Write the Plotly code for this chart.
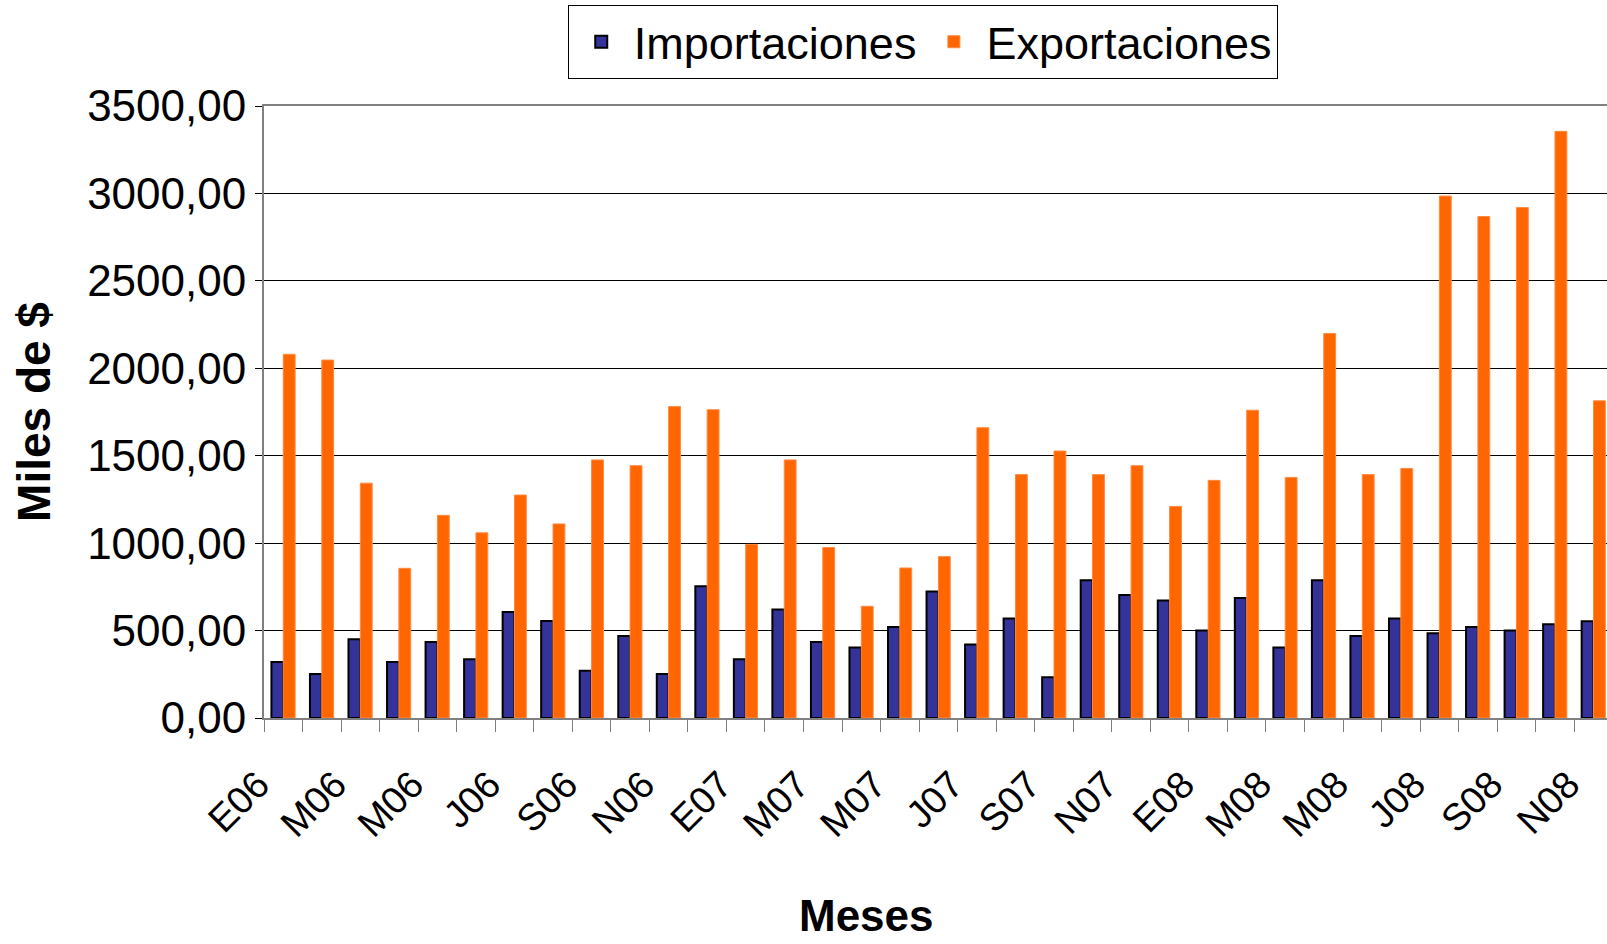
import plotly.graph_objects as go

months = ["E06", "F06", "M06", "A06", "M06", "J06", "J06", "A06", "S06", "O06", "N06", "D06",
          "E07", "F07", "M07", "A07", "M07", "J07", "J07", "A07", "S07", "O07", "N07", "D07",
          "E08", "F08", "M08", "A08", "M08", "J08", "J08", "A08", "S08", "O08", "N08"]

importaciones = [320, 252, 450, 320, 434, 336, 606, 555, 270, 469, 252, 753,
                 336, 620, 434, 403, 520, 723, 420, 569, 233, 788, 704, 672,
                 501, 686, 403, 788, 469, 569, 485, 520, 501, 536, 553]

exportaciones = [2080, 2047, 1343, 856, 1159, 1059, 1275, 1110, 1476, 1443, 1781, 1763,
                 993, 1476, 975, 639, 858, 923, 1660, 1392, 1527, 1392, 1443, 1210,
                 1359, 1760, 1376, 2199, 1392, 1427, 2985, 2868, 2919, 3355, 1814]

y_ticks = [0, 500, 1000, 1500, 2000, 2500, 3000, 3500]

xpos = list(range(len(months)))
FONT = "Liberation Sans, Arial, sans-serif"

fig = go.Figure()
fig.add_trace(go.Bar(x=xpos, y=importaciones, name="Importaciones",
                     marker=dict(color="#333399", line=dict(color="#000000", width=2))))
fig.add_trace(go.Bar(x=xpos, y=exportaciones, name="Exportaciones",
                     marker=dict(color="#FF6600", line=dict(color="#FF8A40", width=1))))

fig.update_layout(
    width=1607, height=944, autosize=False,
    margin=dict(l=264, r=0, t=106, b=226, autoexpand=False),
    paper_bgcolor="white", plot_bgcolor="white",
    font=dict(family=FONT, color="black"),
    separators=", ",
    barmode="group", bargap=0.385, bargroupgap=0,
    showlegend=True,
    legend=dict(orientation="h", x=0.4905, xanchor="center", yref="container", y=1 - 5 / 944, yanchor="top",
                font=dict(size=45, family=FONT), bordercolor="black", borderwidth=1,
                bgcolor="white", itemwidth=55),
)

fig.update_xaxes(
    automargin=False,
    range=[-0.5, 34.35],
    tickmode="array", tickvals=xpos[::2], ticktext=months[::2],
    tickangle=-45, tickfont=dict(size=38, family=FONT),
    ticks="", ticklabelstandoff=27, ticklabelshift=-25,
    minor=dict(ticks="outside", tickmode="linear", tick0=-0.5, dtick=1, ticklen=12,
               tickcolor="#808080", tickwidth=1, showgrid=False),
    showline=True, linecolor="#808080", linewidth=2, mirror=True,
    showgrid=False, zeroline=False,
)

fig.update_yaxes(
    automargin=False,
    range=[0, 3500], tickmode="array", tickvals=y_ticks, tickformat=".2f",
    tickfont=dict(size=44, family=FONT),
    ticks="outside", ticklen=7, tickcolor="black", tickwidth=1,
    showline=True, linecolor="#808080", linewidth=2,
    showgrid=True, gridcolor="black", gridwidth=1, zeroline=False,
    title=dict(text="<b>Miles de $</b>", font=dict(size=46, family=FONT), standoff=22),
)

fig.add_annotation(text="<b>Meses</b>", xref="paper", yref="paper",
                   x=(866 - 264) / 1343, y=-(942 - 718) / 612, xanchor="center", yanchor="bottom",
                   showarrow=False, font=dict(size=44, family=FONT, color="black"))

fig.write_html("out.html", config={"displayModeBar": False},
               post_script="document.body.style.margin='0';")
